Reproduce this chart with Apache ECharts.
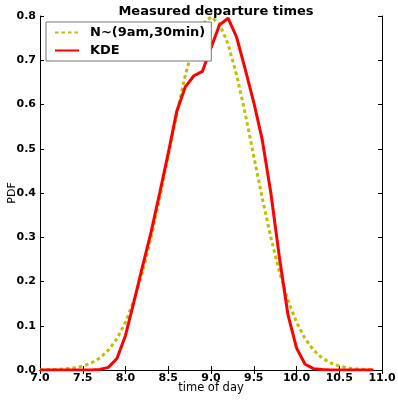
<!DOCTYPE html>
<html>
<head>
<meta charset="utf-8">
<script src="https://cdn.jsdelivr.net/npm/echarts@6/dist/echarts.min.js"></script>
<style>html,body{margin:0;padding:0;background:#fff}#c{width:398px;height:401px}</style>
</head>
<body>
<div id="c"></div>
<script>
const times = [7.0,7.1,7.2,7.3,7.4,7.5,7.6,7.7,7.8,7.9,8.0,8.1,8.2,8.3,8.4,8.5,8.6,8.7,8.8,8.9,
  9.0,9.1,9.2,9.3,9.4,9.5,9.6,9.7,9.8,9.9,10.0,10.1,10.2,10.3,10.4,10.5,10.6,10.7,10.8,10.9];
const normalPdf = [0.0003,0.0006,0.0012,0.0025,0.0048,0.0089,0.0158,0.0271,0.0448,0.0709,
  0.1080,0.1579,0.2218,0.2995,0.3884,0.4839,0.5794,0.6664,0.7365,0.7821,
  0.7979,0.7821,0.7365,0.6664,0.5794,0.4839,0.3884,0.2995,0.2218,0.1579,
  0.1080,0.0709,0.0448,0.0271,0.0158,0.0089,0.0048,0.0025,0.0012,0.0006];
const kde = [0,0,0,0,0,0,0,0.001,0.006,0.026,
  0.078,0.155,0.235,0.312,0.400,0.490,0.585,0.640,0.665,0.675,
  0.728,0.780,0.795,0.752,0.680,0.605,0.520,0.400,0.255,0.125,
  0.050,0.013,0.003,0.001,0,0,0,0,0,0];
const seriesNames = ['N~(9am,30min)','KDE'];
const titleText = 'Measured departure times';
const xName = 'time of day';
const yName = 'PDF';

const chart = echarts.init(document.getElementById('c'), null, {renderer:'canvas'});
const font = 'DejaVu Sans';
const axisLineStyle = {color:'#000', width:1};
const tickStyle = {show:true, inside:true, length:4, lineStyle:{color:'#000', width:1}};
chart.setOption({
  animation:false,
  backgroundColor:'#fff',
  title:{text:titleText, left:211, top:0, textAlign:'center',
    textStyle:{fontFamily:font, fontWeight:'bold', fontSize:13, color:'#000'}},
  legend:{
    left:46, top:22, orient:'vertical', itemGap:5,
    padding:[4,6,4,8],
    borderColor:'#777', borderWidth:1, backgroundColor:'#fff',
    itemWidth:24, itemHeight:14,
    itemStyle:{color:'rgba(0,0,0,0)', borderWidth:0, opacity:0},
    textStyle:{fontFamily:font, fontWeight:'bold', fontSize:13, color:'#000', padding:[0,0,0,6]},
    data:seriesNames
  },
  grid:{left:40, right:16, top:16, bottom:31, containLabel:false, outerBoundsMode:'none'},
  xAxis:[{
    type:'value', min:7, max:11, interval:0.5,
    name:xName, nameLocation:'middle', nameGap:12, nameMoveOverlap:false,
    nameTextStyle:{fontFamily:font, fontSize:11.5, color:'#000'},
    axisLine:{show:true, lineStyle:axisLineStyle},
    axisTick:tickStyle,
    axisLabel:{fontFamily:font, fontWeight:'bold', fontSize:11, color:'#000', margin:3,
      formatter:v=>v.toFixed(1)},
    splitLine:{show:false}
  },{
    type:'value', min:7, max:11, interval:0.5, position:'top',
    axisLine:{show:true, lineStyle:axisLineStyle}, axisTick:tickStyle,
    axisLabel:{show:false}, splitLine:{show:false}
  }],
  yAxis:[{
    type:'value', min:0, max:0.8, interval:0.1,
    name:yName, nameLocation:'middle', nameGap:22, nameMoveOverlap:false,
    nameTextStyle:{fontFamily:font, fontSize:11, color:'#000'},
    axisLine:{show:true, lineStyle:axisLineStyle},
    axisTick:tickStyle,
    axisLabel:{fontFamily:font, fontWeight:'bold', fontSize:11, color:'#000', margin:4,
      formatter:v=>v.toFixed(1)},
    splitLine:{show:false}
  },{
    type:'value', min:0, max:0.8, interval:0.1, position:'right',
    axisLine:{show:true, lineStyle:axisLineStyle}, axisTick:tickStyle,
    axisLabel:{show:false}, splitLine:{show:false}
  }],
  series:[{
    name:seriesNames[0], type:'line', showSymbol:false, symbol:'none',
    data:times.map((t,i)=>[t, normalPdf[i]]),
    lineStyle:{color:'#bfbf00', width:3, type:[3.5,3]},
    itemStyle:{color:'#bfbf00'}
  },{
    name:seriesNames[1], type:'line', showSymbol:false, symbol:'none',
    data:times.map((t,i)=>[t, kde[i]]),
    lineStyle:{color:'#ff0000', width:3},
    itemStyle:{color:'#ff0000'}
  }]
});
</script>
</body>
</html>
